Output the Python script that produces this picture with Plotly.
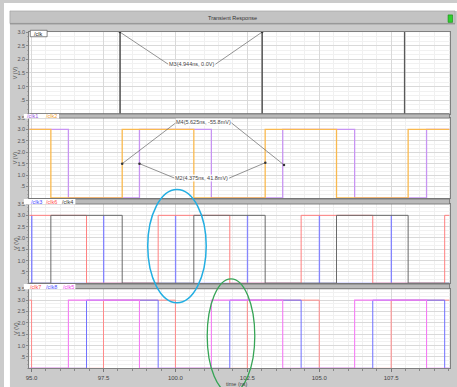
import plotly.graph_objects as go

W, H = 457, 387

# ---- time window (ns) and logic level (V) ----
T_MIN, T_MAX = 94.92, 109.53
VDD = 3.0

# ---- edge times (ns) ----
clk_edges = [98.07, 103.01, 107.96]                        # /clk (single spikes)

clk1_edges = [96.28, 98.75, 101.25, 103.73, 106.23, 108.73]  # /clk1
clk1_start = 3.0
clk2_edges = [95.67, 98.15, 100.64, 103.12, 105.60, 108.09]  # /clk2
clk2_start = 3.0

clk3_edges = [95.00, 97.50, 100.00, 102.50, 105.00, 107.50]  # /clk3 (spikes)
clk6_edges = [96.91, 99.40, 101.89, 104.37, 106.86, 109.36]  # /clk6
clk6_start = 3.0
clk4_edges = [95.67, 98.15, 100.64, 103.12, 105.60, 108.09]  # /clk4
clk4_start = 0.0

clk7_edges = [95.00, 97.50, 100.00, 102.50, 105.00, 107.50]  # /clk7
clk7_start = 3.0
clk8_edges = [96.91, 99.40, 101.89, 104.37, 106.86, 109.36]  # /clk8
clk8_start = 0.0
clk5_edges = [96.28, 98.75, 101.25, 103.73, 106.23, 108.73]  # /clk5
clk5_start = 0.0

# ---- delta markers ----
marker_names = ["M3", "M4", "M2"]
marker_panel = [1, 2, 2]
marker_t0 = [98.07, 98.15, 98.75]
marker_v0 = [3.0, 1.5, 1.5]
marker_dt = [4.944, 5.625, 4.375]
marker_dv = [0.0, -0.0558, 0.0418]
label_t = [100.57, 100.98, 100.92]
label_v = [1.82, 3.30, 0.87]
label_hw = [0.82, 0.95, 0.95]

y_ticks_low = [0.5, 1.0, 1.5, 2.0, 2.5, 3.0]
y_ticks_all = [0.5, 1.0, 1.5, 2.0, 2.5, 3.0, 3.5]
y_tick_text = [".5", "1.0", "1.5", "2.0", "2.5", "3.0", "3.5"]
x_ticks = [95.0, 97.5, 100.0, 102.5, 105.0, 107.5]

# panel pixel extents: (top, bottom, vmax)
panels = [(29.3, 111.7, 3.0), (115.8, 196.5, 3.5), (202.6, 282.4, 3.5), (288.0, 368.2, 3.5)]
PX_L, PX_R = 25.5, 449.5
FONT = "Liberation Sans"


def fx(px):
    return px / W


def fy(py):
    return 1 - py / H


def square(edges, start):
    xs, ys = [T_MIN], [start]
    lvl = start
    for e in edges:
        xs += [e, e]
        ys += [lvl, VDD - lvl]
        lvl = VDD - lvl
    xs.append(T_MAX)
    ys.append(lvl)
    return xs, ys


def spikes(edges, width=0.012):
    xs, ys = [T_MIN], [0.0]
    for e in edges:
        xs += [e, e, e + width, e + width]
        ys += [0.0, VDD, VDD, 0.0]
    xs.append(T_MAX)
    ys.append(0.0)
    return xs, ys


fig = go.Figure()


def add(xy, color, k, width=1.0):
    xs, ys = xy
    sfx = "" if k == 1 else str(k)
    fig.add_trace(go.Scatter(x=xs, y=ys, mode="lines", line=dict(color=color, width=width),
                             xaxis="x" + sfx, yaxis="y" + sfx, hoverinfo="skip"))


# panel 1
add(spikes(clk_edges), "#555555", 1, 1.0)
# panel 2
add(square(clk1_edges, clk1_start), "#c894f2", 2, 1.3)
add(square(clk2_edges, clk2_start), "#f9b94f", 2, 1.3)
# panel 3
add(spikes(clk3_edges), "#8080ff", 3, 0.9)
add(square(clk6_edges, clk6_start), "#ff8080", 3, 1.0)
add(square(clk4_edges, clk4_start), "#6a6a6a", 3, 1.0)
# panel 4
add(square(clk7_edges, clk7_start), "#ff8a8a", 4, 1.0)
add(square(clk8_edges, clk8_start), "#7070ff", 4, 1.0)
add(square(clk5_edges, clk5_start), "#f47cf4", 4, 1.1)


def note(x, y, text, size=5.5, color="#444", xref="paper", yref="paper", **kw):
    d = dict(x=x, y=y, xref=xref, yref=yref, text=text, showarrow=False,
             xanchor="center", yanchor="middle",
             font=dict(size=size, color=color, family=FONT))
    d.update(kw)
    return d


annotations = []

# delta markers: two points joined to a centred label
for i, name in enumerate(marker_names):
    k = marker_panel[i]
    sfx = "" if k == 1 else str(k)
    t1, v1 = marker_t0[i], marker_v0[i]
    t2, v2 = t1 + marker_dt[i], v1 + marker_dv[i]
    lx0 = label_t[i] - label_hw[i]
    lx1 = label_t[i] + label_hw[i]
    fig.add_trace(go.Scatter(x=[t1, lx0, None, lx1, t2], y=[v1, label_v[i], None, label_v[i], v2],
                             mode="lines", line=dict(color="#666666", width=0.7),
                             xaxis="x" + sfx, yaxis="y" + sfx, hoverinfo="skip"))
    fig.add_trace(go.Scatter(x=[t1, t2], y=[v1, v2], mode="markers",
                             marker=dict(color="#333", size=2.5),
                             xaxis="x" + sfx, yaxis="y" + sfx, hoverinfo="skip"))
    dv = marker_dv[i]
    dv_txt = "0.0V" if dv == 0 else f"{dv * 1000:.1f}mV"
    annotations.append(note(label_t[i], label_v[i], f"{name}({marker_dt[i]:.3f}ns, {dv_txt})",
                            color="#444", xref="x" + sfx, yref="y" + sfx,
                            bgcolor="rgba(255,255,255,0.85)", borderpad=0))

layout_axes = {}
for k, (top, bot, vmax) in enumerate(panels, start=1):
    sfx = "" if k == 1 else str(k)
    layout_axes["xaxis" + sfx] = dict(
        domain=[fx(PX_L), fx(PX_R)], range=[T_MIN, T_MAX], anchor="y" + sfx,
        matches=None if k == 1 else "x",
        showline=True, linecolor="#808080", linewidth=1, mirror=True, zeroline=False,
        showgrid=True, gridcolor="#d9d9d9", gridwidth=1, tickvals=x_ticks,
        minor=dict(dtick=0.5, tick0=95.0, showgrid=True, gridcolor="#f0f0f0",
                   ticks="outside" if k == 4 else "", ticklen=1.5, tickcolor="#888"),
        ticks="outside" if k == 4 else "", ticklen=3, tickcolor="#777",
        showticklabels=(k == 4), tickformat=".1f",
        tickfont=dict(size=6, color="#444", family=FONT),
    )
    ticks = y_ticks_low if vmax == 3.0 else y_ticks_all
    layout_axes["yaxis" + sfx] = dict(
        domain=[fy(bot), fy(top)], range=[0, vmax], anchor="x" + sfx,
        showline=True, linecolor="#808080", linewidth=1, mirror=True, zeroline=False,
        showgrid=True, gridcolor="#d9d9d9", gridwidth=1,
        tickvals=ticks, ticktext=y_tick_text[:len(ticks)],
        ticks="outside", ticklen=2, tickcolor="#888",
        minor=dict(dtick=0.5 / 3, tick0=0, showgrid=True, gridcolor="#f1f1f1",
                   ticks="outside", ticklen=1, tickcolor="#aaa"),
        tickfont=dict(size=5.5, color="#555", family=FONT),
    )
    annotations.append(note(fx(11.5), fy((top + bot) / 2), "V (V)", color="#555", textangle=-90))

shapes = []
# outer window chrome
shapes.append(dict(type="rect", xref="paper", yref="paper", x0=0, x1=1, y0=fy(8), y1=1,
                   fillcolor="white", line=dict(width=0), layer="above"))
shapes.append(dict(type="rect", xref="paper", yref="paper", x0=0, x1=fx(6), y0=0, y1=1,
                   fillcolor="white", line=dict(width=0), layer="above"))
shapes.append(dict(type="rect", xref="paper", yref="paper", x0=fx(6), x1=fx(455), y0=fy(20.5), y1=fy(8),
                   fillcolor="#c3c3c3", line=dict(color="#a0a0a0", width=0.6), layer="above"))
shapes.append(dict(type="line", xref="paper", yref="paper", x0=fx(6), x1=fx(455), y0=fy(21), y1=fy(21),
                   line=dict(color="#8a8a8a", width=1), layer="above"))
shapes.append(dict(type="rect", xref="paper", yref="paper", x0=fx(448), x1=fx(452.5), y0=fy(19.5), y1=fy(12),
                   fillcolor="#2fd02f", line=dict(color="#138a13", width=0.6), layer="above"))
annotations.append(note(fx(231), fy(15), "Transient Response", color="#333"))

# panel 1 tab
shapes.append(dict(type="rect", xref="paper", yref="paper", x0=fx(26.5), x1=fx(43.5), y0=fy(34), y1=fy(27.5),
                   fillcolor="white", line=dict(color="#555", width=0.7), layer="above"))
annotations.append(note(fx(35), fy(30.8), "/clk", color="#222"))

# signal tabs of panels 2-4
tab_rows = [(111.8, 116.0, 55.5), (197.5, 202.6, 72.0), (283.2, 288.0, 72.0)]
tab_labels = [[("/clk1", 28.5, "#9a55e0"), ("/clk2", 48.0, "#f0a030")],
              [("/clk3", 32.5, "#4a4aff"), ("/clk6", 47.5, "#ff5050"), ("/clk4", 64.5, "#333")],
              [("/clk7", 32.0, "#ff4a4a"), ("/clk8", 48.0, "#5050ff"), ("/clk5", 65.0, "#f040f0")]]
for (y0, y1, xe), labels in zip(tab_rows, tab_labels):
    shapes.append(dict(type="rect", xref="paper", yref="paper", x0=fx(PX_L), x1=fx(PX_R), y0=fy(y1), y1=fy(y0),
                       fillcolor="#bababa", line=dict(color="#6c6c6c", width=0.8), layer="above"))
    shapes.append(dict(type="rect", xref="paper", yref="paper", x0=fx(20), x1=fx(xe), y0=fy(y1 + 0.5), y1=fy(y0),
                       fillcolor="white", line=dict(width=0), layer="above"))
    for txt, xc, col in labels:
        annotations.append(note(fx(xc), fy((y0 + y1) / 2 + 0.3), txt, color=col))

# hand-drawn highlight ellipses
shapes.append(dict(type="circle", xref="paper", yref="paper", x0=fx(145), x1=fx(204), y0=fy(302), y1=fy(188),
                   line=dict(color="#22aee2", width=1.5), layer="above"))
shapes.append(dict(type="circle", xref="paper", yref="paper", x0=fx(205), x1=fx(253), y0=fy(393), y1=fy(278),
                   line=dict(color="#35a455", width=1.3), layer="above"))

annotations.append(note(fx(235), fy(384), "time (ns)", color="#444"))

fig.update_layout(width=W, height=H, margin=dict(l=0, r=0, t=0, b=0),
                  paper_bgcolor="#cbcbcb", plot_bgcolor="white", showlegend=False,
                  shapes=shapes, annotations=annotations, **layout_axes)

fig.write_html("out.html")
